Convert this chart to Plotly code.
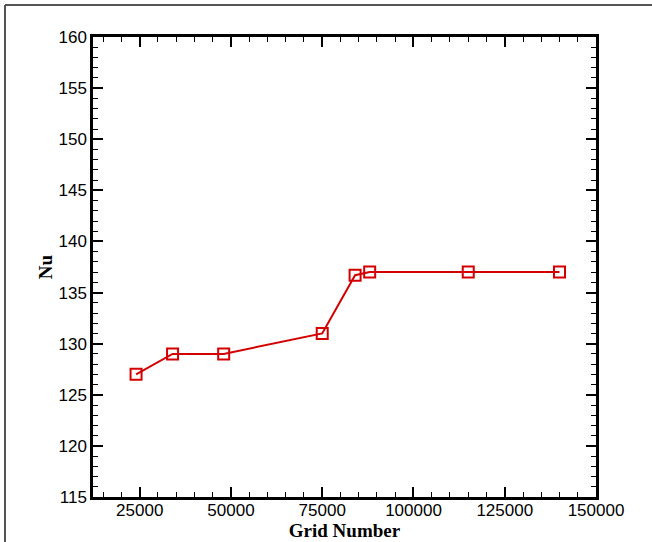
import plotly.graph_objects as go

grid_number = [24000, 34000, 48000, 75000, 84000, 88000, 115000, 140000]
nu = [127, 129, 129, 131, 136.7, 137, 137, 137]
x_ticks = [25000, 50000, 75000, 100000, 125000, 150000]
y_ticks = [115, 120, 125, 130, 135, 140, 145, 150, 155, 160]

W, H = 652, 542
ml, mr, mt, mb = 93, 56, 37, 45
pw, ph = W - ml - mr, H - mt - mb

red = "#d40000"
fig = go.Figure(go.Scatter(
    x=grid_number, y=nu, mode="lines+markers",
    line=dict(color=red, width=2),
    marker=dict(symbol="square-open", size=11, color=red, line=dict(width=2, color=red)),
    showlegend=False,
))

tickfont = dict(family="Liberation Sans, Arial", size=17, color="black")
titlefont = dict(family="Liberation Serif, Times New Roman", size=19, color="black")

common = dict(
    showline=True, linecolor="black", linewidth=2.5, mirror="ticks",
    ticks="inside", ticklen=10, tickwidth=2, tickcolor="black",
    showgrid=False, zeroline=False, tickfont=tickfont, automargin=False,
)
fig.update_xaxes(range=[12200, 150000], tickmode="array", tickvals=x_ticks,
                 ticktext=[str(v) for v in x_ticks], ticklabelstandoff=-4,
                 minor=dict(tickmode="linear", dtick=5000, tick0=0, ticks="inside", ticklen=5, tickwidth=1, tickcolor="black", showgrid=False),
                 title=dict(text="<b>Grid Number</b>", font=titlefont, standoff=0), **common)
fig.update_yaxes(range=[115, 160], tickmode="array", tickvals=y_ticks,
                 minor=dict(tickmode="linear", dtick=1, tick0=0, ticks="inside", ticklen=5, tickwidth=1, tickcolor="black", showgrid=False),
                 title=dict(text="<b>Nu</b>", font=titlefont, standoff=1), **common)

def px_x(p):
    return (p - ml) / pw
def px_y(p):
    return 1 - (p - mt) / ph

fig.add_shape(type="line", xref="paper", yref="paper",
              x0=px_x(5), x1=px_x(5), y0=px_y(5), y1=px_y(542),
              line=dict(color="#555555", width=2))
fig.add_shape(type="line", xref="paper", yref="paper",
              x0=px_x(5), x1=px_x(652), y0=px_y(5), y1=px_y(5),
              line=dict(color="#555555", width=2))

fig.update_layout(
    width=W, height=H,
    margin=dict(l=ml, r=mr, t=mt, b=mb),
    plot_bgcolor="white", paper_bgcolor="white",
)
fig.write_html("out.html")
